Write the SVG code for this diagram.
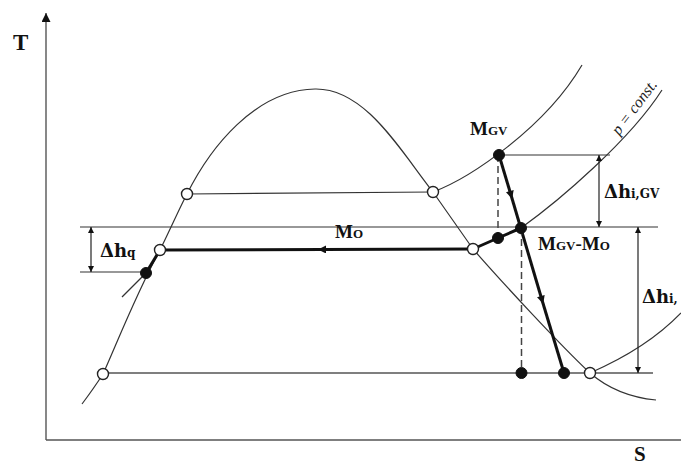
<svg xmlns="http://www.w3.org/2000/svg" width="681" height="466" viewBox="0 0 681 466">
<defs>
<marker id="ah" viewBox="0 0 10 10" refX="10" refY="5" markerWidth="7" markerHeight="6" orient="auto-start-reverse" markerUnits="userSpaceOnUse"><path d="M0,0 L10,5 L0,10 Z" fill="#111"/></marker>
<marker id="axh" viewBox="0 0 10 10" refX="10" refY="5" markerWidth="11" markerHeight="9" orient="auto" markerUnits="userSpaceOnUse"><path d="M0,0 L10,5 L0,10 Z" fill="#111"/></marker>
<marker id="mid" viewBox="0 0 10 10" refX="5" refY="5" markerWidth="11" markerHeight="8" orient="auto" markerUnits="userSpaceOnUse"><path d="M0,0 L10,5 L0,10 Z" fill="#111"/></marker>
</defs>
<style>
.thin{fill:none;stroke:#333;stroke-width:1.2}
.grey{fill:none;stroke:#555;stroke-width:1.4}
.thick{fill:none;stroke:#111;stroke-width:3}
.dash{fill:none;stroke:#444;stroke-width:1.5;stroke-dasharray:7,4}
.dim{fill:none;stroke:#222;stroke-width:1.2}
.open{fill:#fff;stroke:#222;stroke-width:1.4}
.full{fill:#111;stroke:#111;stroke-width:1}
.lbl{font-family:"Liberation Serif","DejaVu Serif",serif;font-weight:bold;fill:#111}
.dl{font-family:"DejaVu Serif","Liberation Serif",serif;font-weight:bold;fill:#111}
.it{font-family:"Liberation Serif","DejaVu Serif",serif;font-style:italic;fill:#222}
</style>
<rect width="681" height="466" fill="#fff"/>
<g id="axes">
<line class="grey" x1="46" y1="440" x2="46" y2="13" marker-end="url(#axh)"/>
<line class="grey" x1="46" y1="440" x2="681" y2="440"/>
<text class="lbl" x="13" y="50" font-size="23">T</text>
<text class="lbl" x="634" y="461" font-size="21">S</text>
</g>
<g id="connectors">
<path id="dome" class="thin" d="M82,404 Q94,388 103,374 C115,348 135,296 160,250 C170,230 180,207 187,194 C210,148 255,90 315,89 C365,88 400,150 433,192 L473,249 C500,280 560,345 590,373 C612,392 635,398 656,400"/>
<line class="thin" x1="146" y1="273" x2="122" y2="297"/>
<path id="isobar-high" class="thin" d="M433,192 C470,178 545,128 582,65"/>
<path id="isobar-mid" class="thin" d="M521,228 C560,200 630,140 662,90"/>
<path id="isobar-low" class="thin" d="M590,373 C620,360 655,340 681,313"/>
<line class="thin" x1="187" y1="194" x2="433" y2="192"/>
<line class="grey" x1="103" y1="373" x2="653" y2="373"/>
<line class="thin" x1="80" y1="227" x2="658" y2="227"/>
<line class="thin" x1="499" y1="155" x2="610" y2="155"/>
<line class="thin" x1="80" y1="272" x2="146" y2="272"/>
<path class="thick" d="M473,249 L322,249.5" marker-end="url(#mid)"/>
<path class="thick" d="M322,249.5 L160,250"/>
<path class="thick" d="M160,250 L146,273"/>
<path class="thick" d="M473,249 L498,238 L521,228"/>
<path class="thick" d="M499,155 L511,195" marker-end="url(#mid)"/>
<path class="thick" d="M511,195 L542,300" marker-end="url(#mid)"/>
<path class="thick" d="M542,300 L564,373"/>
<line class="dash" x1="498" y1="155" x2="498" y2="238"/>
<line class="dash" x1="521.5" y1="228" x2="521.5" y2="373"/>
<line class="dim" x1="91" y1="227" x2="91" y2="272" marker-start="url(#ah)" marker-end="url(#ah)"/>
<line class="dim" x1="599" y1="155" x2="599" y2="227" marker-start="url(#ah)" marker-end="url(#ah)"/>
<line class="dim" x1="638" y1="227" x2="638" y2="373" marker-start="url(#ah)" marker-end="url(#ah)"/>
</g>
<g id="points">
<circle class="open" cx="103" cy="374" r="5.5"/>
<circle class="open" cx="160" cy="250" r="5.5"/>
<circle class="open" cx="187" cy="194" r="5.5"/>
<circle class="open" cx="433" cy="192" r="5.5"/>
<circle class="open" cx="473" cy="249" r="5.5"/>
<circle class="open" cx="590" cy="373" r="5.5"/>
<circle class="full" cx="146" cy="273" r="5.5"/>
<circle class="full" cx="499" cy="155" r="5.5"/>
<circle class="full" cx="498" cy="238" r="5.5"/>
<circle class="full" cx="521" cy="228" r="5.5"/>
<circle class="full" cx="521.5" cy="373" r="5.5"/>
<circle class="full" cx="564" cy="373" r="5.5"/>
</g>
<g id="labels">
<text class="lbl" x="335" y="238" font-size="19">M<tspan font-size="13">O</tspan></text>
<text class="lbl" x="470" y="135" font-size="19">M<tspan font-size="13">GV</tspan></text>
<text class="lbl" x="538" y="250" font-size="19">M<tspan font-size="13">GV</tspan>-M<tspan font-size="13">O</tspan></text>
<text class="dl" x="100" y="257" font-size="18">Δh<tspan font-size="12">q</tspan></text>
<text class="dl" x="604" y="198" font-size="18">Δh<tspan font-size="12">i,GV</tspan></text>
<text class="dl" x="642" y="303" font-size="18">Δh<tspan font-size="12">i,</tspan></text>
<text class="it" x="0" y="0" font-size="16" transform="translate(619,136) rotate(-53)">p = const.</text>
</g>
</svg>
